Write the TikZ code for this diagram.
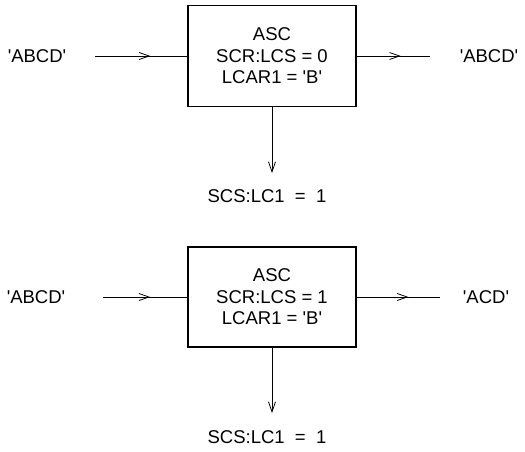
\documentclass[tikz,border=0pt]{standalone}
\usepackage{fontspec}
\setmainfont{Liberation Sans}
\usepackage{tikz}
\usetikzlibrary{arrows.meta}
\usetikzlibrary{decorations.markings}

\newcommand{\sq}{\textquotesingle}

\begin{document}
\begin{tikzpicture}[
	x=1pt, y=-1pt,
	line width=0.8pt,
	every node/.style={font=\fontsize{18.5}{21.5}\selectfont},
	blk/.style={draw, line width=1.6pt, minimum width=168pt, minimum height=101pt, align=center},
	lbl/.style={inner sep=0pt},
	midarrow/.style={
		postaction={decorate},
		decoration={markings, mark=at position #1 with {\arrow{Straight Barb[length=10pt,width=7pt]}}}
	},
	downarrow/.style={-{Straight Barb[length=10pt,width=7pt]}}
]
	\useasboundingbox (0,0) rectangle (525,451);

	% first case: SCR:LCS = 0
	\node[blk] (asc1) at (272,56) {ASC\\SCR:LCS = 0\\LCAR1 = \sq B\sq};
	\node[lbl] (in1) at (37,56) {\sq ABCD\sq};
	\node[lbl] (out1) at (489,56) {\sq ABCD\sq};
	\node[lbl] (flag1) at (267,196) {SCS:LC1\ \ =\ \ 1};
	\coordinate (s1) at (95,56);
	\coordinate (e1) at (430,56);
	\coordinate (d1) at (272,173);

	\draw[midarrow=0.6] (s1) -- (asc1.west);
	\draw[midarrow=0.6] (asc1.east) -- (e1);
	\draw[downarrow] (asc1.south) -- (d1);

	% second case: SCR:LCS = 1
	\node[blk, minimum height=100pt] (asc2) at (272,297) {ASC\\SCR:LCS = 1\\LCAR1 = \sq B\sq};
	\node[lbl] (in2) at (36,297) {\sq ABCD\sq};
	\node[lbl] (out2) at (486,297) {\sq ACD\sq};
	\node[lbl] (flag2) at (267,437) {SCS:LC1\ \ =\ \ 1};
	\coordinate (s2) at (103,297);
	\coordinate (e2) at (440,297);
	\coordinate (d2) at (272,413);

	\draw[midarrow=0.56] (s2) -- (asc2.west);
	\draw[midarrow=0.62] (asc2.east) -- (e2);
	\draw[downarrow] (asc2.south) -- (d2);
\end{tikzpicture}
\end{document}
